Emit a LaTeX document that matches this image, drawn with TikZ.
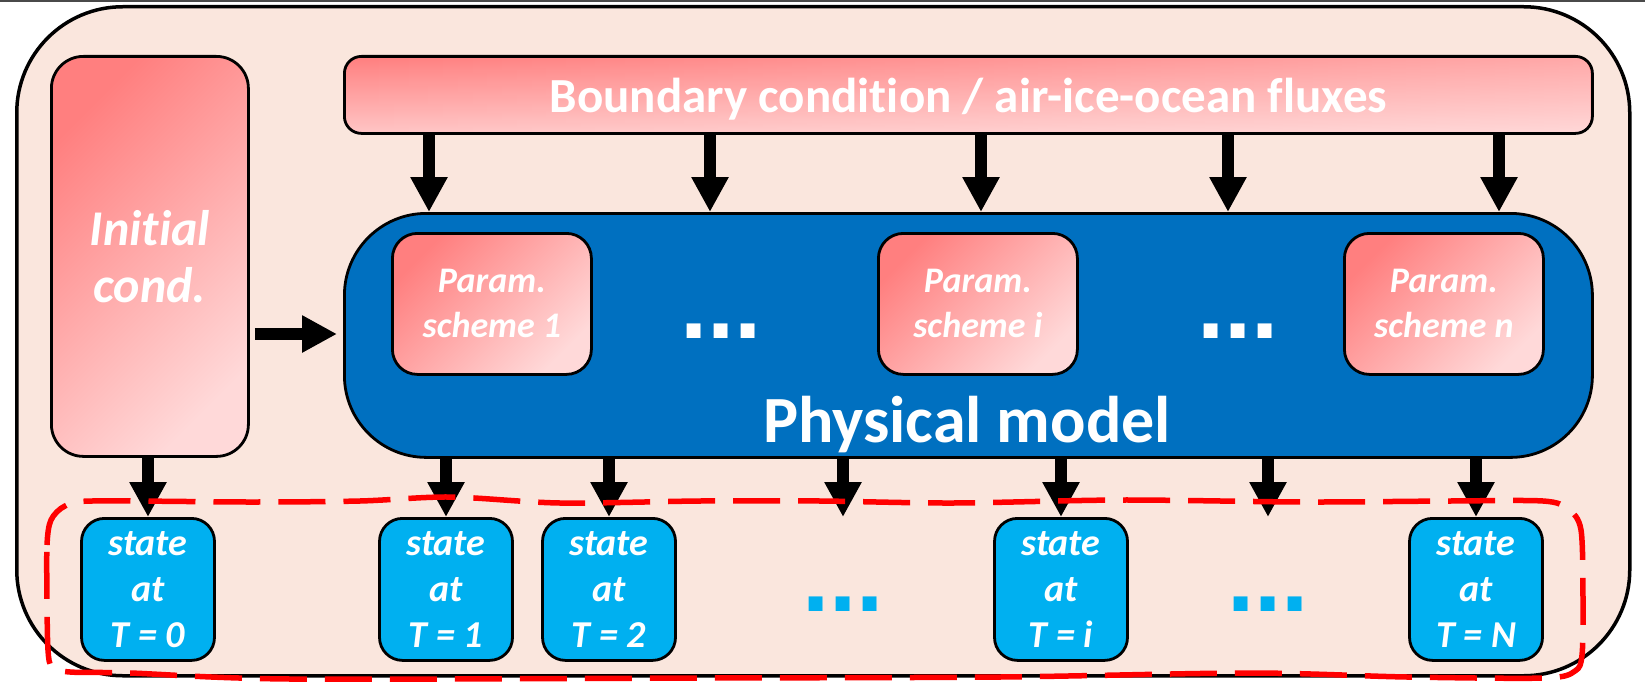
\documentclass[tikz,border=0pt]{standalone}
\usepackage{fontspec}
\setmainfont{Carlito}[Ligatures=CommonOff]
\newfontfamily\dotfont{Liberation Sans}
\usetikzlibrary{arrows.meta,fadings}

\definecolor{panel}{HTML}{FAE6DD}
\definecolor{modelblue}{HTML}{0070C0}
\definecolor{stateblue}{HTML}{00B0F0}
\definecolor{rosedark}{HTML}{FF7F7F}
\definecolor{roselight}{HTML}{FFD9D9}
\definecolor{rosemid}{HTML}{FFC6C6}
\definecolor{ensemblered}{HTML}{FF0000}
\definecolor{edgegray}{HTML}{4A4A4A}

\tikzset{
  boxline/.style={draw=black, line width=2.8pt},
  rosebox/.style={boxline, shading=axis, top color=rosedark, bottom color=roselight,
    shading angle=45, text=white, align=center, anchor=north west, inner sep=0pt},
  paramlabel/.style={font=\fontsize{36}{45}\selectfont\bfseries\itshape},
  statebox/.style={boxline, fill=stateblue, rounded corners=23pt, minimum width=133pt,
    minimum height=142pt, anchor=north, inner sep=0pt, text=white, align=center,
    font=\fontsize{38}{46}\selectfont\bfseries\itshape},
  flow/.style={line width=12pt, -{Triangle[width=35pt,length=35pt]}},
  ellipsisdots/.style={font=\dotfont\fontsize{98}{98}\selectfont\bfseries, inner sep=0pt, anchor=base},
  ensemble/.style={draw=ensemblered, line width=5.5pt, dash pattern=on 47pt off 18pt},
}

\begin{document}
\begin{tikzpicture}[x=1pt,y=-1pt]
\useasboundingbox (0,0) rectangle (1645,682);
\fill[edgegray] (0,0) rectangle (1645,2.5);

% outer frame
\node[draw=black, fill=panel, line width=3.5pt, rounded corners=106pt, minimum width=1613pt,
  minimum height=669pt, anchor=north west, inner sep=0pt] (frame) at (15,5) {};

% forcing and initial state
\node[rosebox, rounded corners=32pt, minimum width=197pt, minimum height=400pt,
  font=\fontsize{50}{57}\selectfont\bfseries\itshape] (ic) at (50,55) {Initial\\cond.};
\node[rosebox, shading angle=0, top color=rosedark, bottom color=rosemid,
  path picture={\fill[white, fill opacity=0.32, path fading=west]
    (path picture bounding box.south west) rectangle (path picture bounding box.north east);},
  rounded corners=17pt, minimum width=1248pt, minimum height=77pt,
  font=\fontsize{49}{49}\selectfont\bfseries] (bc) at (343,55)
  {\raisebox{-4pt}[\height][\depth]{Boundary condition / air-ice-ocean fluxes}};

% physical model with its parameterisation schemes
\node[boxline, fill=modelblue, rounded corners=82pt, minimum width=1248pt, minimum height=244pt,
  anchor=north west, inner sep=0pt] (pm) at (343,212) {};
\node[font=\fontsize{66}{66}\selectfont\bfseries, text=white, anchor=base, inner sep=0pt]
  (pmlabel) at (967,442) {Physical model};
\node[rosebox, paramlabel, rounded corners=25pt, minimum width=199pt, minimum height=141pt]
  (ps1) at (391,232) {Param.\\scheme 1};
\node[rosebox, paramlabel, rounded corners=25pt, minimum width=199pt, minimum height=141pt]
  (psi) at (877,232) {Param.\\scheme i};
\node[rosebox, paramlabel, rounded corners=25pt, minimum width=199pt, minimum height=141pt]
  (psn) at (1343,232) {Param.\\scheme n};
\node[ellipsisdots, text=white] (pmdots1) at (721,338) {...};
\node[ellipsisdots, text=white] (pmdots2) at (1238,338) {...};

% model states
\node[statebox] (s0) at (148,517) {state\\at\\T = 0};
\node[statebox] (s1) at (446,517) {state\\at\\T = 1};
\node[statebox] (s2) at (609,517) {state\\at\\T = 2};
\node[statebox] (si) at (1061,517) {state\\at\\T = i};
\node[statebox] (sn) at (1476,517) {state\\at\\T = N};
\node[ellipsisdots, text=stateblue] (sdots1) at (843,611) {...};
\node[ellipsisdots, text=stateblue] (sdots2) at (1268,611) {...};
\coordinate (gap1) at (843,517);
\coordinate (gap2) at (1268,517);

% forcing arrows
\foreach \x in {429,710,981,1228,1499}
  \draw[flow] (bc.south -| \x,0) -- (pm.north -| \x,0);
\draw[flow, shorten <=5pt, shorten >=6pt] (ic.east |- 0,334) -- (pm.west |- 0,334);

% output arrows
\draw[flow] (ic.south -| s0.north) -- (s0.north);
\foreach \s in {s1,s2,si,sn}
  \draw[flow] (pm.south -| \s.north) -- (\s.north);
\foreach \g in {gap1,gap2}
  \draw[flow] (pm.south -| \g) -- (\g);

% ensemble of states
\draw[ensemble] plot[smooth cycle, tension=0.5] coordinates {
  (47,600) (47,545) (51,520) (65,506) (92,501) (250,502) (360,501) (450,497) (560,503)
  (700,501) (820,501) (953,503) (1122,500) (1303,502) (1450,501) (1543,501) (1568,509)
  (1581,530) (1583,600) (1582,655) (1575,671) (1545,678) (1407,677) (1250,673) (1000,677)
  (700,678) (290,679) (130,673) (70,672) (52,667) (48,650)};
\end{tikzpicture}
\end{document}
